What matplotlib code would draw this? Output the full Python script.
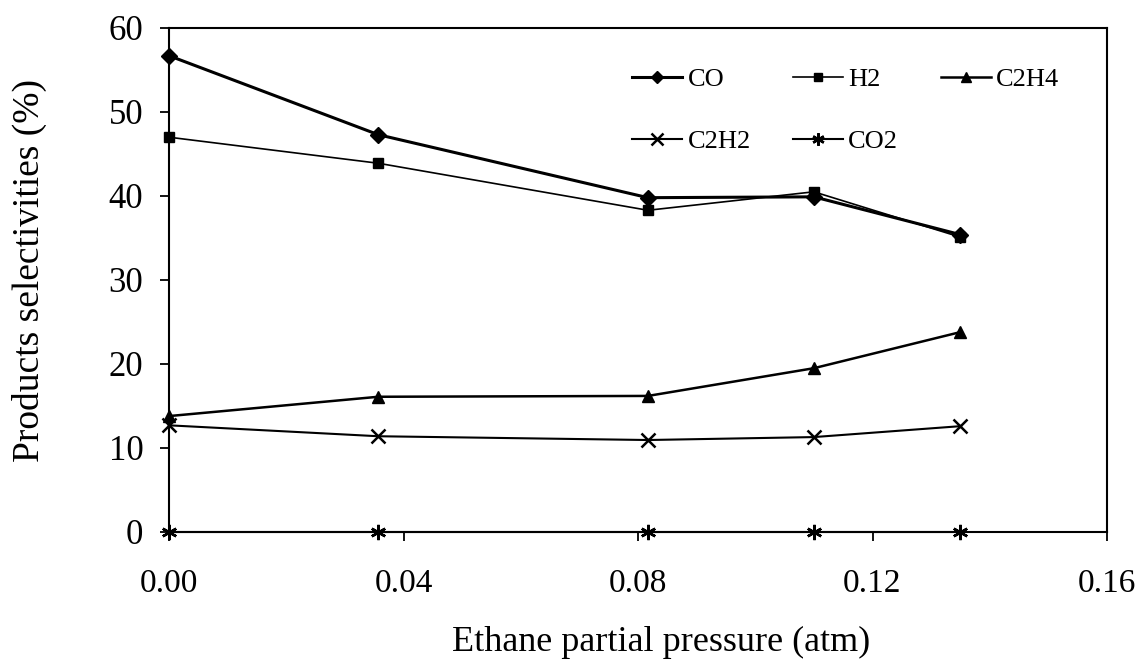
import matplotlib.pyplot as plt

plt.rcParams['font.family'] = ['Liberation Serif', 'DejaVu Serif']

# Ethane partial pressure (atm)
pressure = [0.0, 0.0357, 0.0817, 0.110, 0.135]

# Product selectivities (%)
sel_co = [56.7, 47.3, 39.8, 39.9, 35.4]
sel_h2 = [47.0, 43.9, 38.3, 40.5, 35.1]
sel_c2h4 = [13.8, 16.1, 16.2, 19.5, 23.8]
sel_c2h2 = [12.7, 11.4, 10.95, 11.3, 12.6]
sel_co2 = [0.0, 0.0, 0.0, 0.0, 0.0]

x_ticks = [0.0, 0.04, 0.08, 0.12, 0.16]
x_labels = ['0.00', '0.04', '0.08', '0.12', '0.16']
y_ticks = [0, 10, 20, 30, 40, 50, 60]

fig = plt.figure(figsize=(11.38, 6.6), dpi=100)
ax = fig.add_axes([169 / 1138, 1 - 532 / 660, (1107 - 169) / 1138, (532 - 28) / 660])

l_co, = ax.plot(pressure, sel_co, color='black', lw=2.2, marker='D', ms=8, label='CO')
l_h2, = ax.plot(pressure, sel_h2, color='black', lw=1.2, marker='s', ms=7.5, label='H2')
l_c2h4, = ax.plot(pressure, sel_c2h4, color='black', lw=1.8, marker='^', ms=9, label='C2H4')
l_c2h2, = ax.plot(pressure, sel_c2h2, color='black', lw=1.5, marker='x', ms=10, mew=1.8, label='C2H2')
l_co2, = ax.plot(pressure, sel_co2, color='black', lw=1.5, marker=(6, 2, 0), ms=11, mew=1.8, label='CO2')

ax.set_xlim(0, 0.16)
ax.set_ylim(0, 60)
ax.set_xticks(x_ticks)
ax.set_xticklabels(x_labels)
ax.set_yticks(y_ticks)
ax.tick_params(length=6.5, width=1.3, direction='out')
ax.tick_params(axis='y', labelsize=25, pad=12)
ax.tick_params(axis='x', labelsize=24, pad=20)
for s in ax.spines.values():
    s.set_linewidth(1.5)
for ln in ax.lines:
    ln.set_clip_on(False)

ax.set_xlabel('Ethane partial pressure (atm)', fontsize=26)
ax.xaxis.set_label_coords(0.5245, -0.1865)
ax.set_ylabel('Products selectivities (%)', fontsize=27)
ax.yaxis.set_label_coords(-0.130, 0.518)

ax.legend(handles=[l_co, l_c2h2, l_h2, l_co2, l_c2h4], ncol=3, frameon=False,
          fontsize=19, loc='upper left', bbox_to_anchor=(0.4936, 0.922),
          borderpad=0, borderaxespad=0, markerscale=0.8,
          handlelength=1.9, handletextpad=0.2, columnspacing=1.6, labelspacing=1.47)

fig.savefig('out.png', dpi=100)
